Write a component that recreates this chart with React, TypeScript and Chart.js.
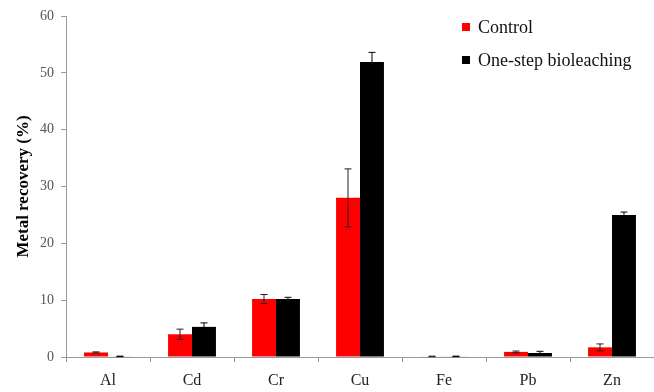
import React, { useEffect, useRef } from "react";
import { Chart, registerables } from "chart.js";

Chart.register(...registerables);

const categories = ["Al", "Cd", "Cr", "Cu", "Fe", "Pb", "Zn"];
const controlValues = [0.8, 4.0, 10.2, 28.0, 0.1, 0.9, 1.7];
const controlErrors = [0.1, 0.9, 0.8, 5.1, 0.05, 0.15, 0.6];
const bioValues = [0.1, 5.3, 10.2, 51.9, 0.1, 0.7, 25.0];
const bioErrors = [0.05, 0.7, 0.3, 1.7, 0.05, 0.3, 0.5];
const seriesNames = ["Control", "One-step bioleaching"];
const yTicks = [0, 10, 20, 30, 40, 50, 60];

const FONT = "'Liberation Serif', 'Times New Roman', serif";

const errorBarPlugin = {
  id: "errorBars",
  afterDatasetsDraw(chart: any) {
    const ctx = chart.ctx;
    const y = chart.scales.y;
    const errs = [controlErrors, bioErrors];
    const colors = ["#222", "#000"];
    chart.data.datasets.forEach((ds: any, di: number) => {
      const meta = chart.getDatasetMeta(di);
      meta.data.forEach((bar: any, i: number) => {
        const v = ds.data[i];
        const e = errs[di][i];
        const x = bar.x;
        const yt = y.getPixelForValue(v + e);
        const yb = y.getPixelForValue(Math.max(0, v - e));
        ctx.save();
        ctx.strokeStyle = colors[di];
        ctx.lineWidth = 1;
        ctx.beginPath();
        ctx.moveTo(x, yt);
        ctx.lineTo(x, yb);
        ctx.moveTo(x - 3.5, yt);
        ctx.lineTo(x + 3.5, yt);
        ctx.moveTo(x - 3.5, yb);
        ctx.lineTo(x + 3.5, yb);
        ctx.stroke();
        ctx.restore();
      });
    });
  },
};

const legendPlugin = {
  id: "customLegend",
  afterDraw(chart: any) {
    const ctx = chart.ctx;
    const items = [
      { label: seriesNames[0], color: "#ff0000", y: 27 },
      { label: seriesNames[1], color: "#000000", y: 60 },
    ];
    ctx.save();
    ctx.font = `18px ${FONT}`;
    ctx.textBaseline = "middle";
    ctx.textAlign = "left";
    items.forEach((it) => {
      ctx.fillStyle = it.color;
      ctx.fillRect(462, it.y - 4, 8, 8);
      ctx.fillStyle = "#111";
      ctx.fillText(it.label, 478, it.y + 1);
    });
    ctx.restore();
  },
};

export default function App() {
  const ref = useRef<HTMLCanvasElement>(null);
  useEffect(() => {
    if (!ref.current) return;
    const chart = new Chart(ref.current, {
      type: "bar",
      data: {
        labels: categories,
        datasets: [
          {
            label: seriesNames[0],
            data: controlValues,
            backgroundColor: "#ff0000",
            categoryPercentage: 0.57,
            barPercentage: 1,
          },
          {
            label: seriesNames[1],
            data: bioValues,
            backgroundColor: "#000000",
            categoryPercentage: 0.57,
            barPercentage: 1,
          },
        ],
      },
      options: {
        animation: false,
        responsive: false,
        maintainAspectRatio: false,
        layout: { padding: { left: 8, top: 16, right: 0, bottom: 0 } },
        plugins: {
          legend: { display: false },
          tooltip: { enabled: false },
        },
        scales: {
          x: {
            grid: {
              offset: true,
              drawOnChartArea: false,
              drawTicks: true,
              tickLength: 5,
              color: "#999",
            },
            border: { color: "#999", width: 1 },
            ticks: {
              color: "#222",
              font: { family: FONT, size: 16 },
              padding: 9,
            },
            afterFit: (s: any) => {
              s.height = 35;
            },
          },
          y: {
            min: 0,
            max: 60,
            afterBuildTicks: (s: any) => {
              s.ticks = yTicks.map((v) => ({ value: v }));
            },
            grid: {
              drawOnChartArea: false,
              drawTicks: true,
              tickLength: 5,
              color: "#999",
            },
            border: { color: "#999", width: 1 },
            ticks: {
              color: "#555",
              font: { family: FONT, size: 14 },
              padding: 7,
            },
            title: {
              display: true,
              text: "Metal recovery (%)",
              color: "#000",
              font: { family: FONT, size: 17, weight: "bold" },
              padding: { top: 5, bottom: 0 },
            },
            afterFit: (s: any) => {
              s.width = 58;
            },
          },
        },
      },
      plugins: [errorBarPlugin, legendPlugin],
    });
    return () => chart.destroy();
  }, []);
  return (
    <div style={{ position: "fixed", left: 0, top: 0, width: 654, height: 392, background: "#fff" }}>
      <canvas ref={ref} width={654} height={392} style={{ width: 654, height: 392 }} />
    </div>
  );
}
